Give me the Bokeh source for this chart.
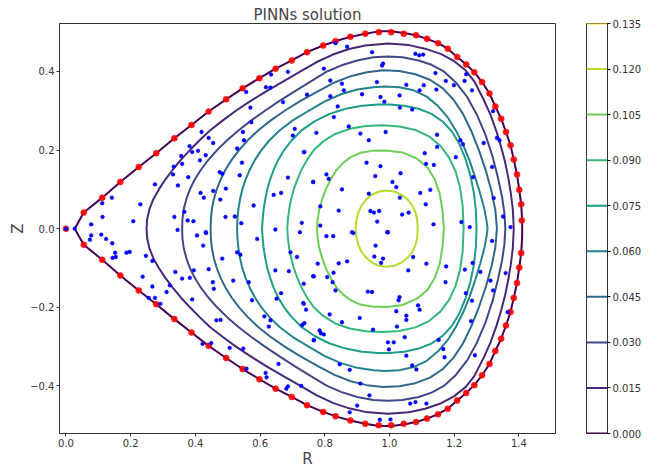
from bokeh.plotting import figure
from bokeh.models import Range1d, FixedTicker
from bokeh.layouts import row
from bokeh.palettes import Viridis256
from bokeh.embed import file_html
from bokeh.resources import INLINE

# ---------------- data ----------------
levels = [0.000, 0.015, 0.030, 0.045, 0.060, 0.075, 0.090, 0.105, 0.120, 0.135]

# boundary contour (psi = 0.000), upper half, left tip -> right midplane
bnd_R = [0.027, 0.055, 0.112, 0.168, 0.225, 0.279, 0.335, 0.388, 0.441, 0.495, 0.546, 0.598, 0.648,
         0.698, 0.745, 0.795, 0.837, 0.879, 0.925, 0.967, 1.005, 1.044, 1.082, 1.116, 1.150, 1.180,
         1.209, 1.237, 1.262, 1.286, 1.309, 1.327, 1.345, 1.360, 1.374, 1.384, 1.394, 1.401, 1.407,
         1.410, 1.410]
bnd_Z = [0.000, 0.041, 0.079, 0.119, 0.157, 0.192, 0.230, 0.264, 0.298, 0.329, 0.357, 0.383, 0.407,
         0.428, 0.449, 0.466, 0.478, 0.488, 0.496, 0.502, 0.502, 0.498, 0.492, 0.483, 0.472, 0.458,
         0.437, 0.418, 0.398, 0.373, 0.344, 0.311, 0.280, 0.246, 0.212, 0.176, 0.138, 0.099, 0.062,
         0.021, 0.000]

# inner contours, upper half (left midplane -> top -> right midplane)
c015_R = [0.249, 0.251, 0.258, 0.270, 0.287, 0.307, 0.330, 0.355, 0.383, 0.413, 0.445, 0.484, 0.525,
          0.571, 0.620, 0.672, 0.725, 0.775, 0.825, 0.875, 0.925, 0.995, 1.060, 1.110, 1.160, 1.200,
          1.235, 1.262, 1.290, 1.312, 1.331, 1.345, 1.357, 1.367, 1.375, 1.381, 1.384]
c015_Z = [0.000, 0.025, 0.050, 0.075, 0.100, 0.125, 0.150, 0.175, 0.200, 0.225, 0.250, 0.275, 0.300,
          0.325, 0.350, 0.375, 0.400, 0.424, 0.443, 0.457, 0.466, 0.471, 0.467, 0.458, 0.444, 0.426,
          0.403, 0.375, 0.330, 0.290, 0.246, 0.208, 0.170, 0.130, 0.090, 0.050, 0.000]
c030_R = [0.359, 0.360, 0.364, 0.372, 0.383, 0.398, 0.417, 0.440, 0.467, 0.498, 0.533, 0.572, 0.615,
          0.660, 0.708, 0.757, 0.807, 0.850, 0.900, 0.950, 0.995, 1.040, 1.090, 1.130, 1.168, 1.205,
          1.240, 1.270, 1.296, 1.318, 1.335, 1.348, 1.355, 1.358]
c030_Z = [0.000, 0.025, 0.050, 0.075, 0.100, 0.125, 0.150, 0.175, 0.200, 0.225, 0.250, 0.275, 0.300,
          0.325, 0.350, 0.375, 0.400, 0.415, 0.428, 0.436, 0.438, 0.436, 0.428, 0.417, 0.400, 0.372,
          0.335, 0.290, 0.240, 0.185, 0.130, 0.080, 0.040, 0.000]
c045_R = [0.447, 0.448, 0.451, 0.457, 0.466, 0.478, 0.493, 0.512, 0.535, 0.562, 0.594, 0.632, 0.676,
          0.725, 0.780, 0.830, 0.880, 0.930, 0.980, 1.030, 1.080, 1.125, 1.165, 1.198, 1.227, 1.253,
          1.277, 1.298, 1.315, 1.327, 1.332]
c045_Z = [0.000, 0.025, 0.050, 0.075, 0.100, 0.125, 0.150, 0.175, 0.200, 0.225, 0.250, 0.275, 0.300,
          0.325, 0.350, 0.372, 0.388, 0.398, 0.403, 0.401, 0.393, 0.379, 0.357, 0.328, 0.292, 0.248,
          0.198, 0.147, 0.096, 0.048, 0.000]
c060_R = [0.529, 0.530, 0.533, 0.538, 0.545, 0.555, 0.568, 0.584, 0.604, 0.629, 0.660, 0.700, 0.750,
          0.800, 0.850, 0.900, 0.950, 0.985, 1.030, 1.075, 1.115, 1.150, 1.180, 1.205, 1.228, 1.248,
          1.265, 1.280, 1.293, 1.300, 1.303]
c060_Z = [0.000, 0.025, 0.050, 0.075, 0.100, 0.125, 0.150, 0.175, 0.200, 0.225, 0.250, 0.275, 0.300,
          0.324, 0.342, 0.354, 0.360, 0.362, 0.360, 0.352, 0.336, 0.312, 0.283, 0.250, 0.212, 0.172,
          0.130, 0.090, 0.050, 0.020, 0.000]
c075_R = [0.606, 0.608, 0.611, 0.616, 0.622, 0.631, 0.642, 0.656, 0.674, 0.698, 0.728, 0.768, 0.815,
          0.865, 0.915, 0.965, 1.000, 1.045, 1.090, 1.130, 1.165, 1.193, 1.216, 1.235, 1.250, 1.261,
          1.267, 1.269]
c075_Z = [0.000, 0.025, 0.050, 0.075, 0.100, 0.125, 0.150, 0.175, 0.200, 0.225, 0.250, 0.273, 0.292,
          0.305, 0.313, 0.316, 0.316, 0.313, 0.305, 0.292, 0.272, 0.247, 0.215, 0.177, 0.135, 0.090,
          0.045, 0.000]
c090_R = [0.684, 0.686, 0.690, 0.696, 0.704, 0.715, 0.728, 0.745, 0.766, 0.795, 0.832, 0.877, 0.927,
          0.980, 1.030, 1.080, 1.122, 1.157, 1.184, 1.204, 1.218, 1.226, 1.229]
c090_Z = [0.000, 0.025, 0.050, 0.075, 0.100, 0.125, 0.150, 0.175, 0.200, 0.222, 0.241, 0.254, 0.261,
          0.263, 0.260, 0.251, 0.235, 0.211, 0.181, 0.146, 0.105, 0.058, 0.000]
c105_R = [0.776, 0.778, 0.783, 0.792, 0.803, 0.818, 0.835, 0.856, 0.880, 0.910, 0.945, 0.990, 1.040,
          1.085, 1.118, 1.140, 1.155, 1.164, 1.168]
c105_Z = [0.000, 0.025, 0.050, 0.075, 0.100, 0.125, 0.148, 0.167, 0.182, 0.193, 0.198, 0.199, 0.194,
          0.178, 0.155, 0.125, 0.090, 0.045, 0.000]
c120_R = [0.895, 0.897, 0.903, 0.913, 0.928, 0.945, 0.966, 0.991, 1.016, 1.037, 1.056, 1.071, 1.081,
          1.086, 1.087]
c120_Z = [0.000, 0.020, 0.040, 0.058, 0.074, 0.086, 0.094, 0.097, 0.094, 0.086, 0.074, 0.058, 0.040,
          0.020, 0.000]

# boundary collocation points (red), upper half incl. midplane
red_R = [0.000, 0.055, 0.112, 0.168, 0.225, 0.279, 0.335, 0.388, 0.441, 0.495, 0.546, 0.598, 0.648,
         0.698, 0.745, 0.795, 0.833, 0.879, 0.925, 0.967, 1.005, 1.044, 1.082, 1.116, 1.150, 1.180,
         1.209, 1.237, 1.262, 1.286, 1.309, 1.327, 1.345, 1.360, 1.374, 1.384, 1.394, 1.401, 1.407,
         1.409]
red_Z = [0.000, 0.041, 0.079, 0.119, 0.157, 0.192, 0.230, 0.264, 0.298, 0.329, 0.357, 0.383, 0.407,
         0.428, 0.449, 0.466, 0.477, 0.488, 0.496, 0.500, 0.500, 0.496, 0.492, 0.483, 0.472, 0.458,
         0.437, 0.418, 0.398, 0.373, 0.344, 0.311, 0.280, 0.246, 0.212, 0.176, 0.138, 0.099, 0.062,
         0.021]

# interior collocation points (blue)
blue_R = [
    0.000, 0.027,
    # upper left
    0.634, 0.686, 0.618, 0.632, 0.557, 0.570, 0.547, 0.573, 0.671, 0.701, 0.707, 0.774, 0.419, 0.441,
    0.455, 0.382, 0.390, 0.408, 0.414, 0.432, 0.483, 0.475, 0.529, 0.544, 0.356, 0.359, 0.378, 0.333,
    0.331, 0.346, 0.275, 0.230, 0.208, 0.142, 0.112, 0.113, 0.078, 0.477, 0.416, 0.426, 0.455, 0.493,
    0.522, 0.542, 0.580, 0.642, 0.665, 0.647, 0.686, 0.735, 0.764, 0.729, 0.366, 0.376, 0.335, 0.345,
    0.394, 0.432, 0.494, 0.537, 0.550,
    # upper right
    0.833, 0.869, 0.946, 1.080, 1.092, 1.104, 0.980, 0.977, 0.797, 0.817, 0.853, 0.859, 0.915, 0.961,
    0.972, 0.984, 1.031, 1.052, 1.093, 1.106, 1.142, 1.145, 1.174, 1.199, 1.232, 1.237, 1.255, 0.745,
    0.817, 0.840, 0.828, 0.874, 0.910, 0.936, 0.988, 1.032, 1.070, 1.147, 1.219, 1.227, 1.291, 1.320,
    1.332, 1.340, 0.737, 0.764, 0.805, 0.812, 0.853, 0.843, 0.786, 0.786, 0.884, 0.929, 0.972, 0.956,
    0.936, 1.009, 1.021, 1.034, 1.032, 1.059, 1.039, 0.941, 0.952, 0.968, 0.962, 0.995, 1.095, 1.112,
    1.126, 1.109, 1.113, 1.137, 1.147, 1.205, 1.258, 1.322, 1.351, 1.317, 1.222, 1.248, 1.136, 1.374,
    # lower left
    0.078, 0.074, 0.109, 0.124, 0.143, 0.152, 0.144, 0.154, 0.187, 0.197, 0.247, 0.267, 0.237, 0.267,
    0.275, 0.256, 0.292, 0.311, 0.321, 0.338, 0.359, 0.395, 0.405, 0.433, 0.424, 0.454, 0.457, 0.483,
    0.517, 0.529, 0.539, 0.565, 0.575, 0.613, 0.632, 0.627, 0.651, 0.665, 0.647, 0.689, 0.694, 0.714,
    0.723, 0.735, 0.733, 0.742, 0.737, 0.764, 0.778, 0.766, 0.784, 0.548, 0.558, 0.617, 0.620, 0.686,
    0.681, 0.727, 0.657, 0.465, 0.478, 0.506, 0.449, 0.422, 0.390, 0.383, 0.441, 0.591,
    # lower right
    0.805, 0.826, 0.888, 0.957, 0.980, 0.974, 0.953, 0.993, 1.073, 1.114, 1.058, 1.173, 1.233, 1.257,
    1.281, 1.312, 1.359, 0.843, 0.869, 0.827, 0.807, 0.824, 0.833, 0.766, 0.735, 0.730, 0.788, 0.797,
    0.766, 0.815, 0.853, 0.908, 0.933, 0.946, 0.949, 1.023, 1.021, 1.028, 1.031, 1.052, 1.052, 1.088,
    1.093, 1.047, 0.995, 1.013, 0.998, 1.052, 1.070, 1.083, 0.846, 0.877, 0.910, 0.938, 0.900, 0.877,
    0.970, 1.003, 1.064, 1.080, 1.114, 1.152, 1.166, 1.170, 1.255, 1.252, 1.236, 1.320, 1.264, 1.365,
    1.175, 1.317,
]
blue_Z = [
    0.000, 0.000,
    # upper left
    0.392, 0.399, 0.360, 0.359, 0.348, 0.308, 0.246, 0.271, 0.322, 0.237, 0.254, 0.244, 0.246, 0.231,
    0.218, 0.210, 0.195, 0.198, 0.174, 0.187, 0.140, 0.144, 0.204, 0.168, 0.185, 0.165, 0.131, 0.158,
    0.138, 0.110, 0.113, 0.062, 0.019, 0.079, 0.065, 0.030, 0.011, 0.074, 0.091, 0.079, 0.096, 0.030,
    0.031, 0.014, 0.059, 0.086, 0.091, -0.002, 0.130, 0.195, 0.119, 0.015, 0.043, 0.021, 0.030, -0.003,
    0.019, -0.009, 0.102, 0.136, 0.225,
    # upper right
    0.472, 0.463, 0.449, 0.445, 0.441, 0.443, 0.420, 0.415, 0.407, 0.377, 0.369, 0.352, 0.342, 0.373,
    0.335, 0.323, 0.339, 0.366, 0.352, 0.365, 0.396, 0.354, 0.376, 0.365, 0.376, 0.393, 0.352, 0.341,
    0.337, 0.311, 0.284, 0.260, 0.242, 0.225, 0.246, 0.308, 0.303, 0.239, 0.225, 0.215, 0.218, 0.299,
    0.231, 0.225, 0.195, 0.119, 0.138, 0.127, 0.100, 0.046, 0.057, 0.008, -0.009, 0.168, 0.159, 0.134,
    0.089, 0.119, 0.106, 0.141, 0.079, 0.041, 0.036, 0.045, 0.041, 0.045, 0.018, -0.009, 0.091, 0.062,
    0.099, 0.192, 0.165, 0.162, 0.208, 0.182, 0.131, 0.078, 0.031, 0.157, 0.017, 0.004, 0.011, 0.004,
    # lower left
    -0.017, -0.028, -0.015, -0.026, -0.037, -0.061, -0.074, -0.072, -0.061, -0.059, -0.069, -0.082,
    -0.122, -0.147, -0.176, -0.176, -0.191, -0.161, -0.144, -0.110, -0.127, -0.106, -0.017, -0.011,
    -0.043, -0.136, -0.153, -0.076, -0.132, -0.060, -0.066, -0.136, -0.182, -0.223, -0.233, -0.249,
    -0.178, -0.164, -0.106, -0.108, -0.060, -0.072, -0.009, -0.140, -0.189, -0.206, -0.240, -0.121,
    -0.089, -0.283, -0.259, -0.305, -0.356, -0.367, -0.378, -0.401, -0.407, -0.400, -0.344, -0.233,
    -0.232, -0.303, -0.291, -0.293, -0.180, -0.125, -0.103, -0.026,
    # lower right
    -0.019, -0.019, -0.011, -0.043, -0.076, -0.087, -0.071, -0.009, -0.072, -0.089, -0.106, -0.136,
    -0.104, -0.087, -0.110, -0.132, -0.113, -0.088, -0.083, -0.112, -0.123, -0.136, -0.157, -0.121,
    -0.191, -0.245, -0.266, -0.269, -0.284, -0.218, -0.238, -0.227, -0.160, -0.161, -0.257, -0.249,
    -0.210, -0.182, -0.174, -0.221, -0.232, -0.195, -0.206, -0.276, -0.289, -0.289, -0.307, -0.323,
    -0.348, -0.358, -0.345, -0.359, -0.394, -0.424, -0.450, -0.467, -0.486, -0.485, -0.445, -0.441,
    -0.445, -0.283, -0.306, -0.327, -0.183, -0.235, -0.164, -0.157, -0.322, -0.212, -0.096, -0.031,
]

x_ticks = [0.0, 0.2, 0.4, 0.6, 0.8, 1.0, 1.2, 1.4]
y_ticks = [-0.4, -0.2, 0.0, 0.2, 0.4]


def closed(R, Z):
    # upper half + mirrored lower half
    return R + R[-2::-1], Z + [-z for z in Z[-2::-1]]


def lvl_color(lv):
    i = min(255, int(lv / levels[-1] * 256))
    return Viridis256[i]


FONT = "DejaVu Sans"
FH = 410

p = figure(frame_width=496, frame_height=FH, x_range=Range1d(-0.02, 1.513),
           y_range=Range1d(-0.521, 0.522),
           toolbar_location=None, output_backend="svg", title="PINNs solution",
           min_border_left=59, min_border_right=31, min_border_top=23, min_border_bottom=30)
p.title.text_font = FONT
p.title.text_font_size = "15px"
p.title.text_font_style = "normal"
p.title.align = "center"
p.title.standoff = 0
p.grid.visible = False
p.outline_line_color = "#333333"
p.background_fill_color = "white"

for ax in (p.xaxis[0], p.yaxis[0]):
    ax.major_label_text_font = FONT
    ax.major_label_text_font_size = "10px"
    ax.major_label_text_color = "#333333"
    ax.axis_label_text_font = FONT
    ax.axis_label_text_font_size = "15px"
    ax.axis_label_text_font_style = "normal"
    ax.axis_label_standoff = 0
    ax.major_label_standoff = 2
    ax.major_tick_out = 3
    ax.major_tick_in = 0
    ax.minor_tick_out = 0
    ax.minor_tick_in = 0
    ax.axis_line_color = "#333333"
    ax.major_tick_line_color = "#333333"

p.xaxis.axis_label = "R"
p.yaxis.axis_label = "Z"
p.xaxis.ticker = FixedTicker(ticks=x_ticks)
p.yaxis.ticker = FixedTicker(ticks=y_ticks)
p.xaxis.major_label_overrides = {t: f"{t:.1f}" for t in x_ticks}
p.yaxis.major_label_overrides = {t: f"{t:.1f}".replace("-", "\u2212") for t in y_ticks}

contours = [
    (levels[0], bnd_R, bnd_Z),
    (levels[1], c015_R, c015_Z),
    (levels[2], c030_R, c030_Z),
    (levels[3], c045_R, c045_Z),
    (levels[4], c060_R, c060_Z),
    (levels[5], c075_R, c075_Z),
    (levels[6], c090_R, c090_Z),
    (levels[7], c105_R, c105_Z),
    (levels[8], c120_R, c120_Z),
]
for lv, R, Z in contours:
    xs, ys = closed(R, Z)
    p.line(xs, ys, line_color=lvl_color(lv), line_width=2)

rx, rz = closed(red_R, red_Z)
p.scatter(rx[:-1], rz[:-1], size=6, fill_color="red", line_color="red", line_width=0.5,
          fill_alpha=0.9)
p.scatter(blue_R, blue_Z, size=3.8, fill_color="blue", line_color="blue", line_width=0.4)

# ---------------- colour bar ----------------
cb = figure(frame_width=21, frame_height=FH, x_range=Range1d(0, 1), y_range=Range1d(0, levels[-1]),
            toolbar_location=None, output_backend="svg", title=" ", y_axis_location="right",
            min_border_left=0, min_border_right=45, min_border_top=23, min_border_bottom=30)
cb.title.text_font = FONT
cb.title.text_font_size = "15px"
cb.title.standoff = 0
cb.grid.visible = False
cb.outline_line_color = "#333333"
cb.segment(x0=[0] * len(levels), x1=[1] * len(levels), y0=levels, y1=levels,
           line_color=[lvl_color(l) for l in levels], line_width=2)
ya = cb.yaxis[0]
ya.ticker = FixedTicker(ticks=levels)
ya.major_label_overrides = {l: f"{l:.3f}" for l in levels}
ya.major_label_text_font = FONT
ya.major_label_text_font_size = "10px"
ya.major_label_text_color = "#333333"
ya.major_label_standoff = 2
ya.major_tick_out = 3
ya.major_tick_in = 0
ya.minor_tick_out = 0
ya.minor_tick_in = 0
ya.axis_line_color = "#333333"
xa = cb.xaxis[0]
xa.axis_label = "R"
xa.axis_label_text_font = FONT
xa.axis_label_text_font_size = "15px"
xa.axis_label_text_color = None
xa.axis_label_standoff = 0
xa.major_label_text_font_size = "10px"
xa.major_label_text_color = None
xa.major_label_standoff = 2
xa.major_tick_out = 3
xa.major_tick_in = 0
xa.minor_tick_out = 0
xa.minor_tick_in = 0
xa.major_tick_line_color = None
xa.minor_tick_line_color = None
xa.axis_line_color = None
xa.ticker = FixedTicker(ticks=[0.5])

layout = row(p, cb)
open("out.html", "w").write(file_html(layout, INLINE))
